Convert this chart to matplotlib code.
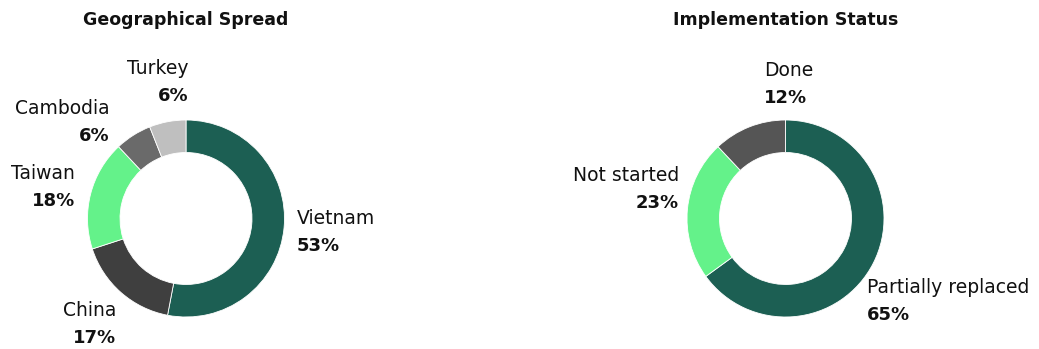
import matplotlib
matplotlib.use('Agg')
import matplotlib.pyplot as plt

plt.rcParams['font.family'] = ['DejaVu Sans']

# data
geo_labels = ['Vietnam', 'China', 'Taiwan', 'Cambodia', 'Turkey']
geo_values = [53, 17, 18, 6, 6]
geo_colors = ['#1c5f53', '#3f3f3f', '#64f28a', '#6a6a6a', '#bfbfbf']

status_labels = ['Partially replaced', 'Not started', 'Done']
status_values = [65, 23, 12]
status_colors = ['#1c5f53', '#64f28a', '#555555']

# label anchors (in donut radii) and alignment
geo_label_pos = [(1.127, 0.0, 'left'), (-0.711, -0.93, 'right'),
                 (-1.127, 0.46, 'right'), (-0.772, 1.12, 'right'),
                 (0.03, 1.52, 'right')]
status_label_pos = [(0.827, -0.70, 'left'), (-1.081, 0.44, 'right'),
                    (-0.218, 1.50, 'left')]

W, H = 1039, 349
R = 98.5  # donut radius in px
LIM = 1.75
fig = plt.figure(figsize=(W / 100, H / 100), dpi=100)


def donut(cx, cy, labels, values, colors, positions, title):
    side = 2 * LIM * R
    ax = fig.add_axes([(cx - side / 2) / W, (H - cy - side / 2) / H, side / W, side / H])
    ax.pie(values, colors=colors, startangle=90, counterclock=False, radius=1,
           wedgeprops=dict(width=0.33, edgecolor='white', linewidth=0.6))
    ax.set_xlim(-LIM, LIM)
    ax.set_ylim(-LIM, LIM)
    ax.set_aspect('equal')
    ax.axis('off')
    total = sum(values)
    for lab, v, (x, y, ha) in zip(labels, values, positions):
        ax.text(x, y, lab, ha=ha, va='center', fontsize=13.5, color='#111111')
        ax.text(x, y - 27.5 / R, '%d%%' % round(100 * v / total), ha=ha, va='center',
                fontsize=13, fontweight='bold', color='#111111')
    fig.text(cx / W, 1 - 20 / H, title, ha='center', va='center',
             fontsize=12.5, fontweight='bold', color='#111111')


donut(186, 218.5, geo_labels, geo_values, geo_colors, geo_label_pos, 'Geographical Spread')
donut(785.5, 218.5, status_labels, status_values, status_colors, status_label_pos,
      'Implementation Status')

plt.savefig('out.png', dpi=100)
